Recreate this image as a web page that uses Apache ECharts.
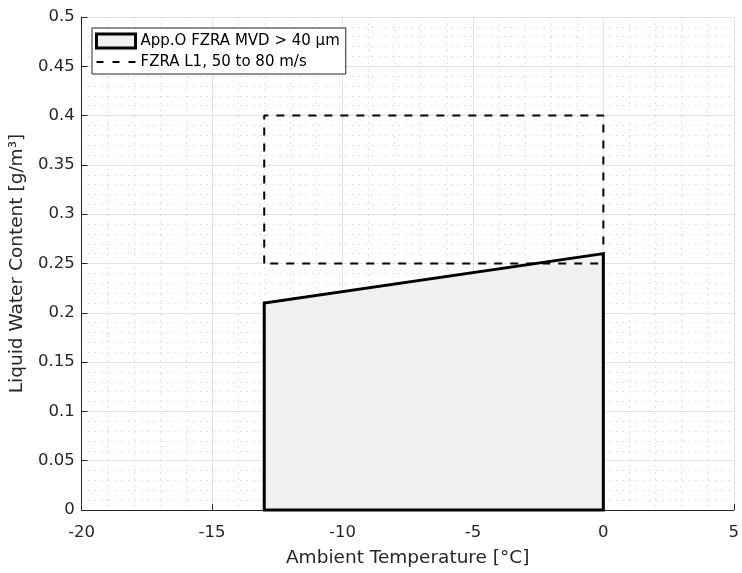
<!DOCTYPE html>
<html>
<head>
<meta charset="utf-8">
<script src="https://cdn.jsdelivr.net/npm/echarts@6/dist/echarts.min.js"></script>
<style>html,body{margin:0;padding:0;background:#fff}#c{width:742px;height:573px}</style>
</head>
<body>
<div id="c"></div>
<script>
// Data
const envelopeTemp = [-13, -13, 0, 0];
const envelopeLWC = [0, 0.21, 0.26, 0];
const l1Temp = [-13, -13, 0, 0, -13];
const l1LWC = [0.25, 0.40, 0.40, 0.25, 0.25];
const xTicks = [-20, -15, -10, -5, 0, 5];
const yTicks = [0, 0.05, 0.1, 0.15, 0.2, 0.25, 0.3, 0.35, 0.4, 0.45, 0.5];
const seriesNames = ['App.O FZRA MVD > 40 µm', 'FZRA L1, 50 to 80 m/s'];

const font = 'DejaVu Sans, sans-serif';
const chart = echarts.init(document.getElementById('c'), null, {renderer: 'canvas'});

const envelopeData = envelopeTemp.map((t, i) => [t, envelopeLWC[i]]);
const l1Data = l1Temp.map((t, i) => [t, l1LWC[i]]);

const axisCommon = {
  axisLine: {show: true, onZero: false, lineStyle: {color: '#262626', width: 1}},
  axisTick: {show: true, inside: true, length: 6, lineStyle: {color: '#262626'}},
  splitLine: {show: true, lineStyle: {color: '#e3e3e3', width: 1}},
  minorTick: {show: false, splitNumber: 5},
  minorSplitLine: {show: true, lineStyle: {color: '#c8c8c8', width: 1, type: [1, 5.6]}},
  axisLabel: {color: '#262626', fontFamily: font, fontSize: 16.5},
  nameTextStyle: {color: '#262626', fontFamily: font, fontSize: 18.5},
  nameLocation: 'middle'
};

chart.setOption({
  animation: false,
  backgroundColor: '#fff',
  grid: {left: 80, right: 7, top: 17, bottom: 61, containLabel: false},
  legend: {
    left: 92, top: 28,
    orient: 'vertical',
    backgroundColor: '#fff',
    borderColor: '#262626',
    borderWidth: 1,
    padding: [4, 6, 3, 3],
    itemGap: 3,
    itemWidth: 39,
    itemHeight: 14,
    textStyle: {fontFamily: font, fontSize: 15, color: '#000', lineHeight: 18},
    data: [
      {name: seriesNames[0], icon: 'rect', itemStyle: {color: '#f0f0f0', borderColor: '#000', borderWidth: 3}},
      {name: seriesNames[1], icon: 'path://M0,0h7v2h-7z M16,0h7v2h-7z M32,0h7v2h-7z', itemStyle: {color: '#000', borderWidth: 0}}
    ]
  },
  xAxis: Object.assign({}, axisCommon, {
    type: 'value', min: xTicks[0], max: xTicks[xTicks.length - 1], interval: 5,
    name: 'Ambient Temperature [°C]', nameGap: 39,
    axisLabel: Object.assign({}, axisCommon.axisLabel, {margin: 14})
  }),
  yAxis: Object.assign({}, axisCommon, {
    type: 'value', min: yTicks[0], max: yTicks[yTicks.length - 1], interval: 0.05,
    name: 'Liquid Water Content [g/m³]', nameGap: 48,
    axisLabel: Object.assign({}, axisCommon.axisLabel, {margin: 7, formatter: v => String(+v.toFixed(2))})
  }),
  series: [
    {
      name: seriesNames[0],
      type: 'custom',
      data: envelopeData,
      itemStyle: {color: '#f0f0f0', borderColor: '#000', borderWidth: 3},
      renderItem: function (params, api) {
        if (params.dataIndex !== 0) return;
        const pts = envelopeData.map(d => api.coord(d));
        return {
          type: 'polygon',
          shape: {points: pts},
          style: {fill: '#f0f0f0', stroke: '#000', lineWidth: 3},
          z2: 1
        };
      },
      z: 2
    },
    {
      name: seriesNames[1],
      type: 'line',
      data: l1Data,
      showSymbol: false,
      symbol: 'none',
      lineStyle: {color: '#000', width: 2, type: [8, 8]},
      itemStyle: {color: '#000'},
      z: 3
    }
  ]
});
</script>
</body>
</html>
